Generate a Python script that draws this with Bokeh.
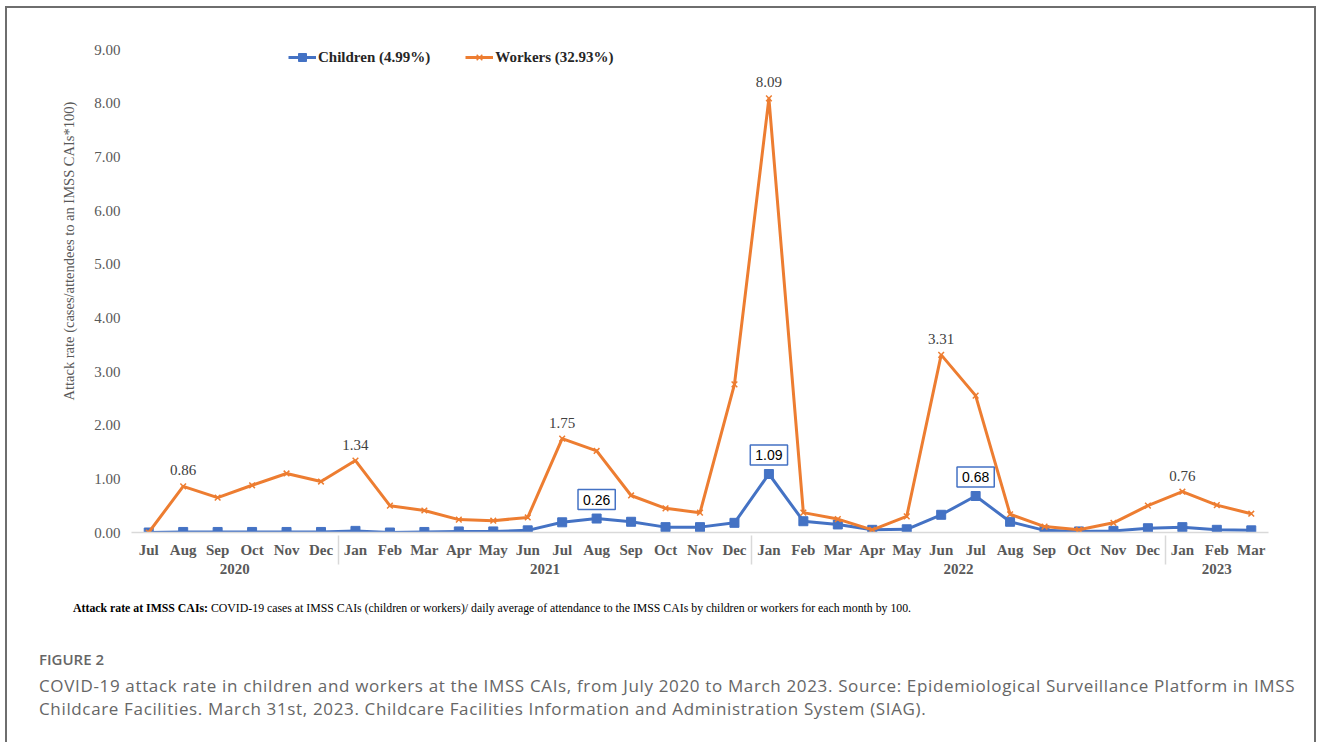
from bokeh.plotting import figure
from bokeh.models import (FactorRange, Range1d, ColumnDataSource, LabelSet, Label, Legend,
                          LegendItem, Div, NumeralTickFormatter, FixedTicker)
from bokeh.layouts import column
from bokeh.embed import file_html
from bokeh.resources import INLINE

# ---------------- data ----------------
years = ["2020"] * 6 + ["2021"] * 12 + ["2022"] * 12 + ["2023"] * 3
months = ["Jul", "Aug", "Sep", "Oct", "Nov", "Dec",
          "Jan", "Feb", "Mar", "Apr", "May", "Jun", "Jul", "Aug", "Sep", "Oct", "Nov", "Dec",
          "Jan", "Feb", "Mar", "Apr", "May", "Jun", "Jul", "Aug", "Sep", "Oct", "Nov", "Dec",
          "Jan", "Feb", "Mar"]
children = [0.00, 0.01, 0.01, 0.01, 0.01, 0.01,
            0.03, 0.00, 0.01, 0.02, 0.02, 0.04, 0.19, 0.26, 0.20, 0.10, 0.10, 0.18,
            1.09, 0.21, 0.15, 0.05, 0.06, 0.33, 0.68, 0.20, 0.04, 0.02, 0.03, 0.08,
            0.10, 0.05, 0.04]
workers = [0.00, 0.86, 0.65, 0.88, 1.10, 0.95,
           1.34, 0.50, 0.41, 0.24, 0.22, 0.28, 1.75, 1.52, 0.69, 0.45, 0.37, 2.76,
           8.09, 0.37, 0.25, 0.05, 0.30, 3.31, 2.55, 0.34, 0.11, 0.05, 0.18, 0.50,
           0.76, 0.51, 0.35]
children_label_idx = [13, 18, 24]
workers_label_idx = [1, 6, 12, 18, 23, 30]
y_ticks = [0, 1, 2, 3, 4, 5, 6, 7, 8, 9]
children_name = "Children (4.99%)"
workers_name = "Workers (32.93%)"
y_title = "Attack rate (cases/attendees to an IMSS CAIs*100)"

BLUE = "#4472C4"
ORANGE = "#ED7D31"
GREY = "#595959"
SERIF = "Liberation Serif"

factors = list(zip(years, months))
src = ColumnDataSource(dict(x=factors, c=children, w=workers))
src_wl = ColumnDataSource(dict(x=[factors[i] for i in workers_label_idx],
                               y=[workers[i] for i in workers_label_idx],
                               t=["%.2f" % workers[i] for i in workers_label_idx]))

xr = FactorRange(*factors, range_padding=0, group_padding=0, factor_padding=0, subgroup_padding=0)
p = figure(x_range=xr, y_range=Range1d(0, 9), frame_width=1137, frame_height=483,
           min_border_left=124, min_border_top=41, min_border_bottom=63, min_border_right=45,
           output_backend="svg", toolbar_location=None, background_fill_color="white",
           border_fill_color="white")
p.outline_line_color = None
p.xgrid.grid_line_color = None
p.ygrid.grid_line_color = None

# y axis
p.yaxis.ticker = FixedTicker(ticks=y_ticks)
p.yaxis.formatter = NumeralTickFormatter(format="0.00")
p.yaxis.axis_line_color = None
p.yaxis.major_tick_line_color = None
p.yaxis.minor_tick_line_color = None
p.yaxis.major_label_text_font = SERIF
p.yaxis.major_label_text_font_size = "15px"
p.yaxis.major_label_text_color = GREY
p.yaxis.major_label_standoff = 5
# leading no-break spaces lift the title towards the top, as in the original
p.yaxis.axis_label = "\u00a0" * 22 + y_title
p.yaxis.axis_label_text_font = SERIF
p.yaxis.axis_label_text_font_size = "14.5px"
p.yaxis.axis_label_text_font_style = "normal"
p.yaxis.axis_label_text_color = GREY
p.yaxis.axis_label_standoff = 14

# x axis
ax = p.xaxis[0]
ax.axis_line_color = "#D9D9D9"
ax.axis_line_width = 1.5
ax.major_tick_line_color = None
ax.minor_tick_line_color = None
ax.major_label_text_font = SERIF
ax.major_label_text_font_size = "15px"
ax.major_label_text_font_style = "bold"
ax.major_label_text_color = GREY
ax.major_label_standoff = 3
ax.group_text_font = SERIF
ax.group_text_font_size = "15px"
ax.group_text_font_style = "bold"
ax.group_text_color = GREY
ax.separator_line_color = "#D9D9D9"
ax.separator_line_width = 1.5

# lines
cl = p.line("x", "c", source=src, color=BLUE, line_width=3)
cs = p.scatter("x", "c", source=src, marker="square", size=9, color=BLUE)
wl = p.line("x", "w", source=src, color=ORANGE, line_width=3)
ws = p.scatter("x", "w", source=src, marker="x", size=8, line_color=ORANGE, line_width=1.5)

# labels
p.add_layout(LabelSet(x="x", y="y", text="t", source=src_wl, text_font=SERIF,
                      text_font_size="15px", text_color="#404040", text_align="center",
                      text_baseline="bottom", y_offset=11))
for i in children_label_idx:
    # synthetic coordinate of month i on the factor range (centre of its band)
    p.add_layout(Label(x=i + 0.5, y=children[i], text="%.2f" % children[i],
                       text_font="Liberation Sans", text_font_size="14px", text_color="#000000",
                       text_align="center", text_baseline="bottom", y_offset=9,
                       border_line_color=BLUE, border_line_width=1.5,
                       background_fill_color="white", padding=5))

legend = Legend(items=[LegendItem(label=children_name, renderers=[cl, cs]),
                       LegendItem(label=workers_name, renderers=[wl, ws])],
                orientation="horizontal", location=(157, 465), padding=0, margin=0,
                spacing=35, glyph_width=28, label_standoff=2,
                border_line_color=None, background_fill_alpha=0,
                label_text_font=SERIF, label_text_font_size="15px",
                label_text_font_style="bold", label_text_color="#262626")
p.add_layout(legend, "center")

foot = Div(text="<b>Attack rate at IMSS CAIs:</b> COVID-19 cases at IMSS CAIs (children or workers)/ "
                "daily average of attendance to the IMSS CAIs by children or workers for each month by 100.",
           width=1200, margin=(6, 0, 0, 66),
           styles={"font-family": SERIF, "font-size": "11.8px", "line-height": "14px", "color": "#000"})
fig_lbl = Div(text="FIGURE 2", width=300, margin=(35, 0, 0, 32),
              styles={"font-family": "Open Sans", "font-size": "15px", "font-weight": "600",
                      "line-height": "18px", "color": "#666"})
cap = Div(text="COVID-19 attack rate in children and workers at the IMSS CAIs, from July 2020 to March 2023. "
               "Source: Epidemiological Surveillance Platform in IMSS<br>Childcare Facilities. March 31st, 2023. "
               "Childcare Facilities Information and Administration System (SIAG).",
          width=1275, margin=(6, 0, 40, 32),
          styles={"font-family": "Open Sans", "font-size": "17px", "line-height": "23px",
                  "letter-spacing": "0.65px", "color": "#666", "white-space": "nowrap"})

layout = column(p, foot, fig_lbl, cap, margin=(6, 0, 0, 5),
                styles={"border-left": "2px solid #6e6e6e", "border-top": "2px solid #6e6e6e",
                        "border-right": "2px solid #6e6e6e", "background": "white"})

open("out.html", "w").write(file_html(layout, INLINE))
